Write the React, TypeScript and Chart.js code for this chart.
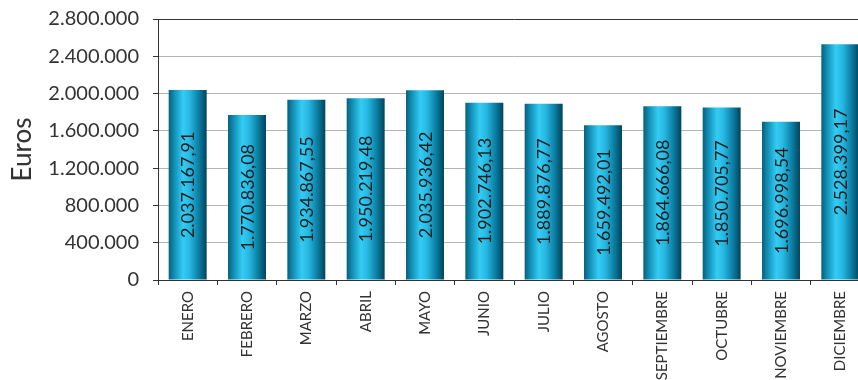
import React, { useEffect, useRef } from "react";
import { Chart, registerables } from "chart.js";

Chart.register(...registerables);

const months = ["ENERO", "FEBRERO", "MARZO", "ABRIL", "MAYO", "JUNIO", "JULIO", "AGOSTO", "SEPTIEMBRE", "OCTUBRE", "NOVIEMBRE", "DICIEMBRE"];
const euros = [2037167.91, 1770836.08, 1934867.55, 1950219.48, 2035936.42, 1902746.13, 1889876.77, 1659492.01, 1864666.08, 1850705.77, 1696998.54, 2528399.17];
const yMin = 0;
const yMax = 2800000;
const yStep = 400000;
const yTitle = "Euros";

const FONT = "Lato, 'Liberation Sans', sans-serif";

function groupThousands(intStr: string): string {
  return intStr.replace(/\B(?=(\d{3})+(?!\d))/g, ".");
}
function fmtInt(v: number): string {
  return groupThousands(Math.round(v).toString());
}
function fmtDec(v: number): string {
  const s = v.toFixed(2);
  const [i, d] = s.split(".");
  return groupThousands(i) + "," + d;
}

const BAR_PCT = 0.64;

const valueLabels = {
  id: "valueLabels",
  afterDatasetsDraw(chart: any) {
    const ctx = chart.ctx;
    const meta = chart.getDatasetMeta(0);
    ctx.save();
    ctx.fillStyle = "#1e1e1e";
    ctx.font = `18px ${FONT}`;
    ctx.textAlign = "center";
    ctx.textBaseline = "middle";
    meta.data.forEach((bar: any, i: number) => {
      const cx = bar.x;
      const cy = (bar.y + bar.base) / 2;
      ctx.save();
      ctx.translate(cx, cy);
      ctx.rotate(-Math.PI / 2);
      ctx.fillText(fmtDec(euros[i]), 0, 1);
      ctx.restore();
    });
    ctx.restore();
  },
};

export default function App() {
  const ref = useRef<HTMLCanvasElement>(null);
  useEffect(() => {
    document.body.style.overflow = "hidden";
    const chart = new Chart(ref.current!, {
      type: "bar",
      data: {
        labels: months,
        datasets: [
          {
            data: euros,
            barPercentage: BAR_PCT,
            categoryPercentage: 1,
            borderWidth: 0,
            backgroundColor: (c: any) => {
              const ch = c.chart;
              const xs = ch.scales?.x;
              if (!xs || c.dataIndex === undefined) return "#1aa9d6";
              const cx = xs.getPixelForValue(c.dataIndex);
              const w = (xs.width / months.length) * BAR_PCT;
              if (!isFinite(cx) || !isFinite(w) || w <= 0) return "#1aa9d6";
              const g = ch.ctx.createLinearGradient(cx - w / 2, 0, cx + w / 2, 0);
              g.addColorStop(0, "#06607c");
              g.addColorStop(0.15, "#128fb6");
              g.addColorStop(0.38, "#34ccf4");
              g.addColorStop(0.55, "#27b8e2");
              g.addColorStop(0.8, "#0a7ca0");
              g.addColorStop(1, "#02435a");
              return g;
            },
          },
        ],
      },
      options: {
        responsive: false,
        animation: false,
        layout: { padding: { top: 19, right: 2, left: 0, bottom: 0 } },
        plugins: { legend: { display: false }, tooltip: { enabled: false } },
        scales: {
          x: {
            offset: true,
            grid: {
              display: true,
              drawOnChartArea: false,
              drawTicks: true,
              tickLength: 5,
              offset: true,
              color: "#333",
            },
            border: { color: "#333", width: 1 },
            ticks: {
              autoSkip: false,
              maxRotation: 90,
              minRotation: 90,
              padding: 6,
              color: "#333",
              font: { family: FONT, size: 15 },
            },
            afterFit: (s: any) => {
              s.height = 100;
            },
          },
          y: {
            min: yMin,
            max: yMax,
            ticks: {
              stepSize: yStep,
              padding: 14,
              color: "#333",
              font: { family: FONT, size: 20 },
              callback: (v: any) => fmtInt(Number(v)),
            },
            grid: {
              color: (c: any) => (c.tick && c.tick.value === yMax ? "#333" : "#b5b5b5"),
              tickColor: "#333",
              tickLength: 5,
              lineWidth: 1,
            },
            border: { color: "#333", width: 1 },
            title: {
              display: true,
              text: yTitle,
              color: "#333",
              font: { family: FONT, size: 26 },
              padding: { top: 7, bottom: 0 },
            },
            afterFit: (s: any) => {
              s.width = 158;
              s.paddingTop = 12;
              s.paddingBottom = 12;
            },
          },
        },
      },
      plugins: [valueLabels],
    });
    return () => chart.destroy();
  }, []);
  return (
    <div style={{ position: "fixed", left: 0, top: 0, width: 872, height: 380 }}>
      <canvas ref={ref} width={872} height={380} style={{ display: "block" }} />
    </div>
  );
}
